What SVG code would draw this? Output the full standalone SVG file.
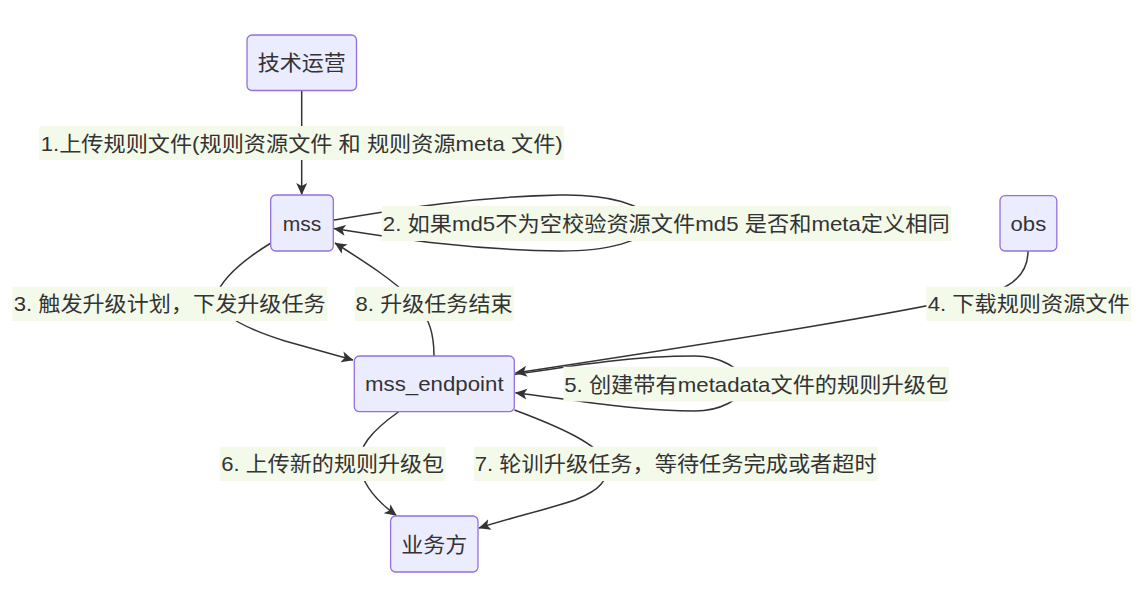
<svg xmlns="http://www.w3.org/2000/svg" width="1141" height="591" viewBox="0 0 1141 591">
<style>
  .node rect { fill: #ECECFF; stroke: #9370DB; stroke-width: 1.3; }
  .node text, .label text { font-family: "Liberation Sans", "Noto Sans CJK SC", sans-serif; font-size: 21px; fill: #333; dominant-baseline: central; text-anchor: middle; }
  .edge { fill: none; stroke: #333; stroke-width: 1.5; marker-end: url(#arrow); }
  .label rect { fill: #F4FAEA; }
</style>
<defs>
  <marker id="arrow" markerUnits="userSpaceOnUse" markerWidth="12" markerHeight="12" viewBox="0 0 12 12" refX="11.5" refY="6" orient="auto">
    <path d="M0,0.5 L12,6 L0,11.5 L3,6 z" fill="#333"/>
  </marker>
</defs>
<rect width="1141" height="591" fill="#ffffff"/>
<g id="edges">
  <path class="edge" d="M301.7,90.5 L301.7,194.5"/>
  <path class="edge" d="M333.3,220 C400,209 470,197 560,195 C610,194 640,204 660,223 C640,242 610,251 560,251 C470,250 400,239 334,228.5"/>
  <path class="edge" d="M271,243 C248,257 222,276 215,298 C218,316 250,330 285,341 L353,360"/>
  <path class="edge" d="M434,356 C434,335 430,318 415,302 C395,281 365,262 335,243"/>
  <path class="edge" d="M1028,251 C1028,266 1022,278 1005,287 C960,305 700,345 515.5,373"/>
  <path class="edge" d="M515,374.5 C570,366 630,356 695,356 C720,356 740,368 750,384 C740,400 720,411 695,411 C640,411 580,401 515.5,392.7"/>
  <path class="edge" d="M399,411.5 C370,432 358,448 360,465 C362,485 378,502 396.4,515.5"/>
  <path class="edge" d="M514.5,410 C560,427 600,445 605,462 C610,480 600,490 575,500 C545,510 510,518 479,528"/>
</g>
<g id="labels">
  <g class="label" id="label1"><rect x="39.3" y="126" width="524.7" height="34"/><text x="301.7" y="143" textLength="522" lengthAdjust="spacingAndGlyphs">1.上传规则文件(规则资源文件 和 规则资源meta 文件)</text></g>
  <g class="label" id="label2"><rect x="381.7" y="206" width="569.3" height="35"/><text x="666.3" y="223.5" textLength="567" lengthAdjust="spacingAndGlyphs">2. 如果md5不为空校验资源文件md5 是否和meta定义相同</text></g>
  <g class="label" id="label3"><rect x="12.5" y="286.7" width="314.5" height="34.3"/><text x="169.7" y="303.8" textLength="312" lengthAdjust="spacingAndGlyphs">3. 触发升级计划，下发升级任务</text></g>
  <g class="label" id="label8"><rect x="354.6" y="286.7" width="159" height="34.3"/><text x="434.1" y="303.8" textLength="157" lengthAdjust="spacingAndGlyphs">8. 升级任务结束</text></g>
  <g class="label" id="label4"><rect x="926.4" y="286.7" width="204.6" height="34.3"/><text x="1028.7" y="303.8" textLength="202" lengthAdjust="spacingAndGlyphs">4. 下载规则资源文件</text></g>
  <g class="label" id="label5"><rect x="563.4" y="366.7" width="385.6" height="34.8"/><text x="756.2" y="384" textLength="384" lengthAdjust="spacingAndGlyphs">5. 创建带有metadata文件的规则升级包</text></g>
  <g class="label" id="label6"><rect x="220" y="446.7" width="225.5" height="34.3"/><text x="332.7" y="463.8" textLength="223" lengthAdjust="spacingAndGlyphs">6. 上传新的规则升级包</text></g>
  <g class="label" id="label7"><rect x="473.7" y="446.7" width="404" height="34.3"/><text x="675.7" y="463.8" textLength="402" lengthAdjust="spacingAndGlyphs">7. 轮训升级任务，等待任务完成或者超时</text></g>
</g>
<g id="node-jishuyunying" class="node"><rect x="247" y="35" width="109.5" height="55.5" rx="5"/><text x="301.7" y="62.8" textLength="88" lengthAdjust="spacingAndGlyphs">技术运营</text></g>
<g id="node-mss" class="node"><rect x="270.7" y="195" width="62.6" height="56" rx="5"/><text x="302" y="223" textLength="38.7" lengthAdjust="spacingAndGlyphs">mss</text></g>
<g id="node-obs" class="node"><rect x="1000" y="195.7" width="56.8" height="55.3" rx="5"/><text x="1028.4" y="223.3" textLength="35.6" lengthAdjust="spacingAndGlyphs">obs</text></g>
<g id="node-mss_endpoint" class="node"><rect x="354.3" y="356" width="160" height="55.7" rx="5"/><text x="434.3" y="383.8" textLength="138.6" lengthAdjust="spacingAndGlyphs">mss_endpoint</text></g>
<g id="node-yewufang" class="node"><rect x="390.6" y="516" width="87.4" height="56" rx="5"/><text x="434.3" y="544" textLength="66" lengthAdjust="spacingAndGlyphs">业务方</text></g>
</svg>
